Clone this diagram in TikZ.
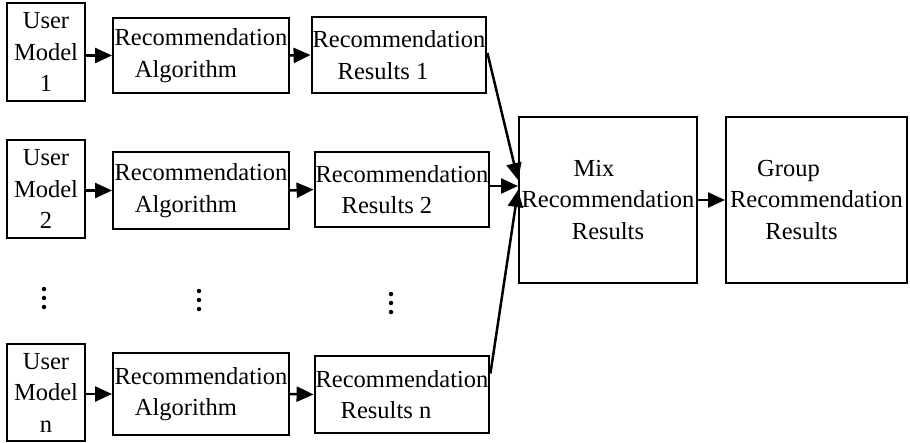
\documentclass[tikz,border=0pt]{standalone}
\usepackage{fontspec}
\setmainfont{Liberation Serif}
\usetikzlibrary{arrows.meta,calc}
\begin{document}
\begin{tikzpicture}[x=1pt,y=-1pt,
  box/.style={draw,line width=2pt,inner sep=1pt,align=center,
    font=\fontsize{24.5}{31.5}\selectfont},
  conn/.style={line width=2.5pt,-{Triangle[length=17pt,width=15pt]}},
  dotmark/.style={fill=black,circle,inner sep=0pt,minimum size=4.5pt}]
\useasboundingbox (0,0) rectangle (910,442);
% row 1
\node[box,minimum width=78pt,minimum height=98pt] (u1) at (46,52) {User\\Model\\1};
\node[box,minimum width=176pt,minimum height=75pt] (a1) at (201,55.5) {Recommendation\\Algorithm\hspace*{30pt}};
\node[box,minimum width=174pt,minimum height=76pt] (r1) at (399,55) {Recommendation\\Results 1\hspace*{32pt}};
% row 2
\node[box,minimum width=78pt,minimum height=98pt] (u2) at (46,189) {User\\Model\\2};
\node[box,minimum width=176pt,minimum height=77pt] (a2) at (201,190.5) {Recommendation\\Algorithm\hspace*{30pt}};
\node[box,minimum width=174pt,minimum height=75pt] (r2) at (402,189.5) {Recommendation\\Results 2\hspace*{30pt}};
% row n
\node[box,minimum width=78pt,minimum height=97pt] (un) at (46,392.5) {User\\Model\\n};
\node[box,minimum width=176pt,minimum height=82pt] (an) at (201,394) {Recommendation\\Algorithm\hspace*{30pt}};
\node[box,minimum width=174pt,minimum height=77pt] (rn) at (402,394.5) {Recommendation\\Results n\hspace*{32pt}};
% mix and group
\node[box,minimum width=178pt,minimum height=166pt] (mix) at (608,200) {Mix\hspace*{28pt}\\Recommendation\\Results};
\node[box,minimum width=181pt,minimum height=166pt] (grp) at (816.5,200) {Group\hspace*{56pt}\\Recommendation\\Results\hspace*{30pt}};
% dots
\foreach \x/\y/\n in {44/289/d1,199/291/d2,391/294/d3}{
  \node[dotmark] (\n a) at (\x,\y) {};
  \node[dotmark] (\n b) at (\x,\y+9) {};
  \node[dotmark] (\n c) at (\x,\y+18) {};
}
% connectors
\draw[conn] (u1.east |- a1.west) -- (a1.west);
\draw[conn] (a1.east) -- (r1.west);
\draw[conn] (u2.east |- a2.west) -- (a2.west);
\draw[conn] (a2.east) -- (r2.west);
\draw[conn] (un.east |- an.west) -- (an.west);
\draw[conn] (an.east) -- (rn.west);
\coordinate (m1) at ($(mix.west)+(0,-20)$);
\coordinate (m2) at ($(mix.west)+(0,-14)$);
\coordinate (m3) at ($(mix.west)+(0,-10)$);
\coordinate (s1) at ($(r1.east)+(0,-2)$);
\coordinate (s2) at ($(r2.east)+(0,-3.5)$);
\coordinate (s3) at ($(rn.east)+(0,-21)$);
\draw[conn] (s1) -- (m1);
\draw[conn] (s2) -- (m2);
\draw[conn] (s3) -- (m3);
\draw[conn] (mix.east) -- (grp.west);
\end{tikzpicture}
\end{document}
